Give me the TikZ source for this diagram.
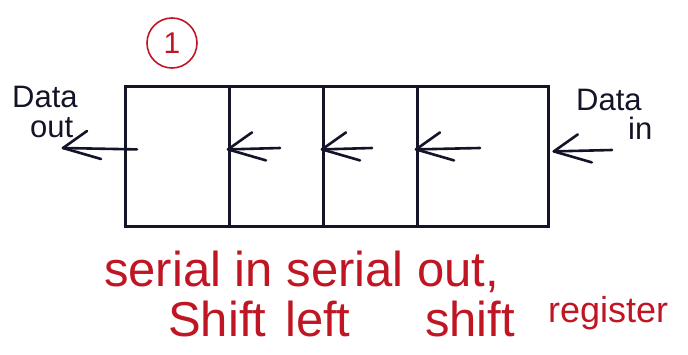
\documentclass[tikz,border=0pt]{standalone}
\usepackage{fontspec}
\setmainfont{Liberation Sans}
\usetikzlibrary{arrows.meta}
\definecolor{inkred}{RGB}{192,22,36}
\definecolor{ink}{RGB}{20,20,40}
\begin{document}
\begin{tikzpicture}[x=1pt,y=-1pt,
  cell/.style={draw=ink,line width=2.8pt,minimum height=140pt,inner sep=0pt,anchor=north west},
  flow/.style={draw=ink,line width=2.6pt,line cap=round},
  barb/.style={draw=ink,line width=2.6pt,line cap=round,line join=round},
  blabel/.style={text=ink,font=\fontsize{31}{31}\selectfont,inner sep=0pt,anchor=base west},
  rlabel/.style={text=inkred,font=\fontsize{49}{49}\selectfont,inner sep=0pt,anchor=base west}]
\useasboundingbox (0,0) rectangle (688,354);
\node[cell,minimum width=104pt] (c1) at (124,85) {};
\node[cell,minimum width=94pt] (c2) at (228,85) {};
\node[cell,minimum width=94pt] (c3) at (322,85) {};
\node[cell,minimum width=131pt] (c4) at (416,85) {};
\coordinate (outend) at (63,148);
\coordinate (t1) at (280,148);
\coordinate (t2) at (372,148);
\coordinate (t3) at (480,148);
\coordinate (inend) at (612,150);
\coordinate (h1) at ([yshift=7pt]c2.west);
\coordinate (h2) at ([yshift=7pt]c3.west);
\coordinate (h3) at ([yshift=7pt]c4.west);
\coordinate (h4) at ([xshift=4pt,yshift=5pt]c4.east);
\draw[flow] ([xshift=13pt,yshift=7pt]c1.west) -- (outend);
\draw[flow] (t1) -- (h1);
\draw[flow] (t2) -- (h2);
\draw[flow] (t3) -- (h3);
\draw[flow] (inend) -- (h4);
\foreach \h in {outend,h1,h2,h3,h4}
  \draw[barb] (\h) ++(24,-17) -- (\h) -- ++(38,11);
\node[draw=inkred,line width=1.6pt,circle,minimum size=50pt,inner sep=0pt,text=inkred,font=\fontsize{30}{30}\selectfont] (num) at (172,43) {1};
\node[blabel] (dout1) at (12,107) {Data};
\node[blabel] (dout2) at (30,137) {out};
\node[blabel] (din1) at (576,110) {Data};
\node[blabel] (din2) at (628,139) {in};
\node[rlabel] (l1) at (104,286) {serial in serial out,};
\node[rlabel] (w1) at (168,336) {Shift};
\node[rlabel] (w2) at (285,336) {left};
\node[rlabel] (w3) at (425,336) {shift};
\node[text=inkred,font=\fontsize{36}{36}\selectfont,inner sep=0pt,anchor=base west] (w4) at (548,322) {register};
\end{tikzpicture}
\end{document}
